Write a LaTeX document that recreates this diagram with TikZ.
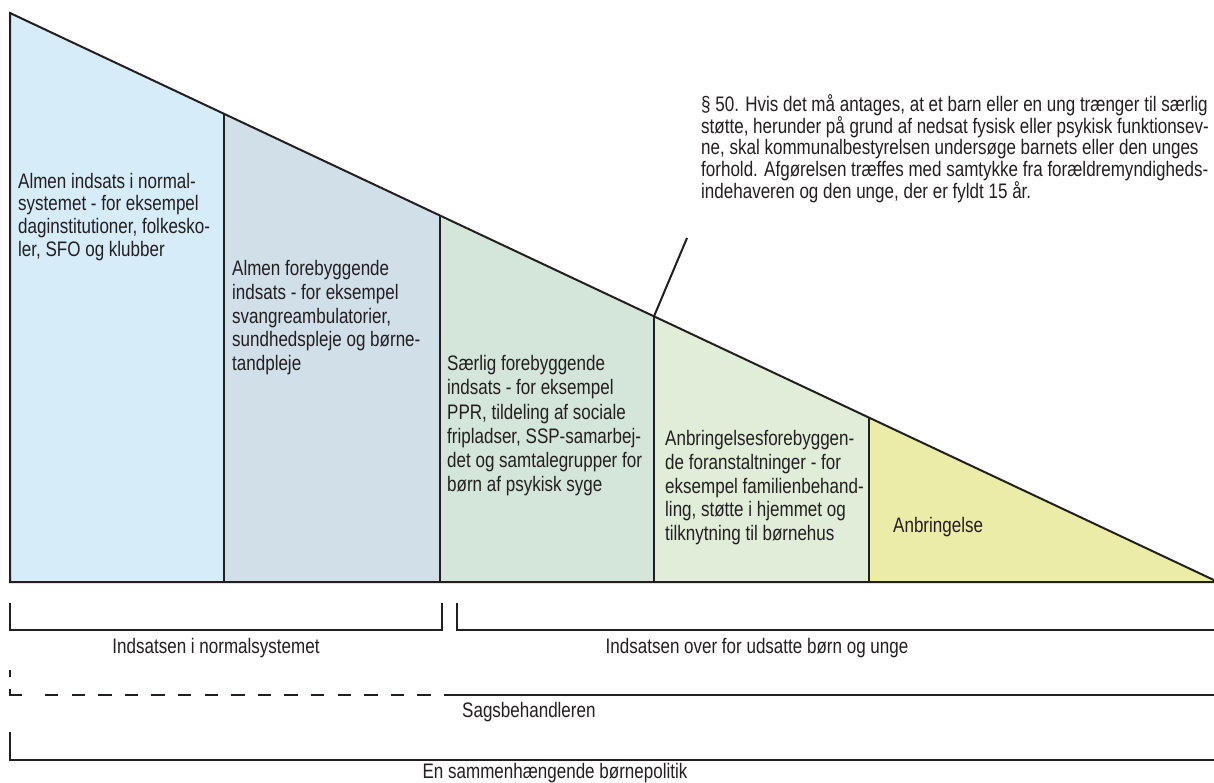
\documentclass[tikz,border=0pt]{standalone}
\usepackage{fontspec}
\setmainfont{Liberation Sans}[FakeStretch=0.81]
\definecolor{ink}{HTML}{231F20}
\definecolor{fillA}{HTML}{D6ECF9}
\definecolor{fillB}{HTML}{D1DFE9}
\definecolor{fillC}{HTML}{D4E5DA}
\definecolor{fillD}{HTML}{E0EED9}
\definecolor{fillE}{HTML}{ECECA9}
\begin{document}
\begin{tikzpicture}[x=1pt,y=-1pt,
  txt/.style={font=\fontsize{21}{23.6}\selectfont, text=ink, inner sep=0pt, align=left, anchor=north west},
  lbl/.style={font=\fontsize{21}{23.6}\selectfont, text=ink, inner sep=0pt, anchor=base},
  edge/.style={draw=ink, line width=2pt},
  brk/.style={draw=ink, line width=2pt}]
\useasboundingbox (0,0) rectangle (1214,783);
\fill[white] (0,0) rectangle (1214,783);
% coordinates of the triangle
\coordinate (tl) at (10,13);
\coordinate (bl) at (10,582);
\coordinate (apex) at (1218,582);
\coordinate (t1) at (224,113.8);
\coordinate (t2) at (440,215.5);
\coordinate (t3) at (654,316.3);
\coordinate (t4) at (869,417.6);
\coordinate (b1) at (224,582);
\coordinate (b2) at (440,582);
\coordinate (b3) at (654,582);
\coordinate (b4) at (869,582);
% fills
\fill[fillA] (tl) -- (t1) -- (b1) -- (bl) -- cycle;
\fill[fillB] (t1) -- (t2) -- (b2) -- (b1) -- cycle;
\fill[fillC] (t2) -- (t3) -- (b3) -- (b2) -- cycle;
\fill[fillD] (t3) -- (t4) -- (b4) -- (b3) -- cycle;
\fill[fillE] (t4) -- (apex) -- (b4) -- cycle;
% outlines
\draw[edge, line join=miter] (apex) -- (tl) -- (bl) -- cycle;
\draw[edge] (t1) -- (b1);
\draw[edge] (t2) -- (b2);
\draw[edge] (t3) -- (b3);
\draw[edge] (t4) -- (b4);
% texts in regions
\node[txt, font=\fontsize{21}{22.7}\selectfont] (s1) at (18,172.7) {Almen indsats i normal-\\systemet - for eksempel\\daginstitutioner, folkesko-\\ler, SFO og klubber};
\node[txt] (s2) at (232,260.4) {Almen forebyggende\\indsats - for eksempel\\svangreambulatorier,\\sundhedspleje og børne-\\tandpleje};
\node[txt, font=\fontsize{21}{24.1}\selectfont] (s3) at (447,355.4) {Særlig forebyggende\\indsats - for eksempel\\PPR, tildeling af sociale\\fripladser, SSP-samarbej-\\det og samtalegrupper for\\børn af psykisk syge};
\node[txt] (s4) at (665,430.4) {Anbringelsesforebyggen-\\de foranstaltninger - for\\eksempel familienbehand-\\ling, støtte i hjemmet og\\tilknytning til børnehus};
\node[txt] (s5) at (893,516.7) {Anbringelse};
% annotation
\node[txt, font=\fontsize{21}{21.7}\selectfont] (note) at (701,94.3) {§ 50. Hvis det må antages, at et barn eller en ung trænger til særlig\\støtte, herunder på grund af nedsat fysisk eller psykisk funktionsev-\\ne, skal kommunalbestyrelsen undersøge barnets eller den unges\\forhold. Afgørelsen træffes med samtykke fra forældremyndigheds-\\indehaveren og den unge, der er fyldt 15 år.};
\coordinate (leadtop) at (687,238);
\draw[edge] (leadtop) -- (t3);
% brackets
\coordinate (k1a) at (10,603);
\coordinate (k1b) at (10,630);
\coordinate (k1c) at (442,630);
\coordinate (k1d) at (442,603);
\draw[brk] (k1a) -- (k1b) -- (k1c) -- (k1d);
\node[lbl] (l1) at (216,653) {Indsatsen i normalsystemet};
\coordinate (k2a) at (457,603);
\coordinate (k2b) at (457,630);
\coordinate (k2c) at (1214,630);
\draw[brk] (k2a) -- (k2b) -- (k2c);
\node[lbl] (l2) at (757,653) {Indsatsen over for udsatte børn og unge};
% case worker line
\coordinate (d0) at (10,670);
\coordinate (d1) at (10,677);
\coordinate (d2) at (10,689);
\coordinate (d3) at (10,695);
\coordinate (d4) at (22,695);
\coordinate (d5) at (45,695);
\coordinate (d6) at (450,695);
\coordinate (d7) at (1214,695);
\draw[brk] (d0) -- (d1);
\draw[brk] (d2) -- (d3) -- (d4);
\draw[brk, dash pattern=on 13.3pt off 13.3pt] (d5) -- (d6);
\draw[brk] (d6) -- (d7);
\node[lbl, anchor=base west] (l3) at (462,717) {Sagsbehandleren};
% whole policy
\coordinate (e1) at (10,732);
\coordinate (e2) at (10,760);
\coordinate (e3) at (1214,760);
\draw[brk] (e1) -- (e2) -- (e3);
\node[lbl] (l4) at (555,778) {En sammenhængende børnepolitik};
\end{tikzpicture}
\end{document}
